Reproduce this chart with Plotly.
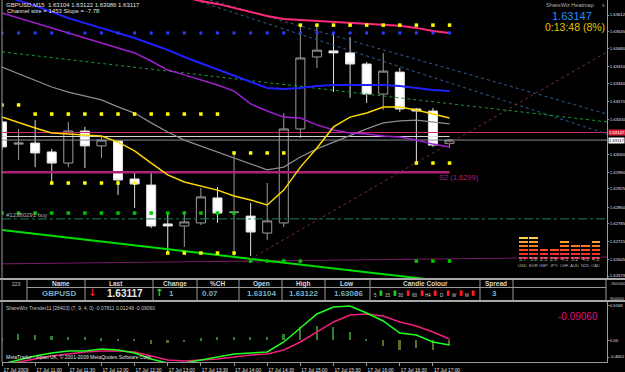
import plotly.graph_objects as go

# ---------------- data ----------------
bar_times = ["10:30", "10:45", "11:00", "11:15", "11:30", "11:45", "12:00", "12:15", "12:30", "12:45",
             "13:00", "13:15", "13:30", "13:45", "14:00", "14:15", "14:30", "14:45", "15:00", "15:15",
             "15:30", "15:45", "16:00", "16:15", "16:30", "16:45", "17:00", "17:15"]
bars = list(range(len(bar_times)))

opens = [1.63189, 1.63101, 1.63105, 1.63070, 1.63026, 1.63153, 1.63094, 1.63113, 1.62963, 1.62939,
         1.62785, 1.62777, 1.62789, 1.62888, 1.62830, 1.62816, 1.62749, 1.62789, 1.63161, 1.63446,
         1.63470, 1.63462, 1.63418, 1.63299, 1.63386, 1.63240, 1.63232, 1.63104]
highs = [1.63204, 1.63161, 1.63196, 1.63082, 1.63189, 1.63169, 1.63133, 1.63117, 1.62987, 1.62995,
         1.62832, 1.62836, 1.62927, 1.62931, 1.63066, 1.62868, 1.62947, 1.63224, 1.63572, 1.63572,
         1.63541, 1.63525, 1.63426, 1.63462, 1.63402, 1.63244, 1.63244, 1.63122]
lows = [1.63078, 1.63038, 1.63010, 1.62947, 1.63010, 1.63006, 1.63046, 1.62900, 1.62848, 1.62769,
        1.62670, 1.62694, 1.62781, 1.62789, 1.62650, 1.62658, 1.62721, 1.62773, 1.63125, 1.63402,
        1.63307, 1.63284, 1.63264, 1.63236, 1.63228, 1.63026, 1.63090, 1.63086]
closes = [1.63090, 1.63105, 1.63066, 1.63026, 1.63153, 1.63094, 1.63117, 1.62959, 1.62943, 1.62777,
          1.62777, 1.62793, 1.62892, 1.62828, 1.62832, 1.62753, 1.62797, 1.63161, 1.63442, 1.63473,
          1.63462, 1.63418, 1.63299, 1.63390, 1.63240, 1.63232, 1.63097, 1.63117]

ma_yellow = [1.63208, 1.63185, 1.63165, 1.63145, 1.63141, 1.63137, 1.63133, 1.63109, 1.63074, 1.63026,
             1.62979, 1.62951, 1.62935, 1.62919, 1.62896, 1.62880, 1.62860, 1.62919, 1.63010, 1.63086,
             1.63169, 1.63208, 1.63224, 1.63248, 1.63248, 1.63236, 1.63220, 1.63204]
ma_gray = [1.63406, 1.63379, 1.63351, 1.63327, 1.63307, 1.63291, 1.63276, 1.63248, 1.63224, 1.63185,
           1.63149, 1.63117, 1.63094, 1.63070, 1.63046, 1.63022, 1.62999, 1.63010, 1.63050, 1.63082,
           1.63109, 1.63137, 1.63161, 1.63185, 1.63193, 1.63196, 1.63189, 1.63181]
ma_blue = [1.63691, 1.63671, 1.63648, 1.63624, 1.63600, 1.63580, 1.63561, 1.63541, 1.63521, 1.63497,
           1.63474, 1.63446, 1.63422, 1.63398, 1.63371, 1.63347, 1.63323, 1.63319, 1.63323, 1.63331,
           1.63335, 1.63335, 1.63335, 1.63335, 1.63331, 1.63323, 1.63315, 1.63311]
ma_purple = [1.63620, 1.63600, 1.63580, 1.63561, 1.63541, 1.63521, 1.63501, 1.63481, 1.63462, 1.63430,
             1.63394, 1.63375, 1.63355, 1.63335, 1.63311, 1.63260, 1.63232, 1.63208, 1.63204, 1.63177,
             1.63157, 1.63145, 1.63141, 1.63133, 1.63129, 1.63117, 1.63101, 1.63090]
ma_pink_bars = [11, 12, 13, 14, 15, 16, 17, 18, 19, 20, 21, 22, 23, 24, 25, 26, 27]
ma_pink = [1.63683, 1.63667, 1.63656, 1.63640, 1.63624, 1.63608, 1.63596, 1.63592, 1.63588, 1.63584,
           1.63580, 1.63576, 1.63572, 1.63569, 1.63561, 1.63549, 1.63541]

# straight channel / trend lines: bar position and price at both ends
chan_a_x, chan_a_y = [12.55, 36.5], [1.63671, 1.63220]
chan_b_x, chan_b_y = [11.64, 36.5], [1.63671, 1.63141]
chan_mid_x, chan_mid_y = [0, 36.5], [1.63466, 1.63189]
chan_low_x, chan_low_y = [0, 36.5], [1.62761, 1.62484]
diag_x, diag_y = [14.66, 36.5], [1.62634, 1.63466]
s3_x, s3_y = [0, 36.5], [1.62627, 1.62654]

heat_price = 1.63147
bid_price = 1.63117
white_level = 1.63131
s2_level = 1.6299
order_level = 1.62805

yellow_levels = [1.63572, 1.63256, 1.63220, 1.63066, 1.62947, 1.62670, 1.63026]
yellow_bar_spans = [(18, 27), (0, 1), (2, 13), (14, 17), (3, 8), (10, 14), (25, 27)]
blue_level = 1.63541
blue_bar_span = (0, 27)
green_levels = [1.62828, 1.62638, 1.62638]
green_bar_spans = [(0, 14), (15, 18), (25, 27)]

price_ticks = [1.63612, 1.63545, 1.63480, 1.63410, 1.63340, 1.63270, 1.63200, 1.63060,
               1.62990, 1.62925, 1.62850, 1.62785, 1.62715, 1.62645, 1.62579]
time_tick_bars = [0, 2, 4, 6, 8, 10, 12, 14, 16, 18, 20, 22, 24, 26]
time_tick_labels = ["17 Jul 2009", "17 Jul 11:00", "17 Jul 11:30", "17 Jul 12:00", "17 Jul 12:30",
                    "17 Jul 13:00", "17 Jul 13:30", "17 Jul 14:00", "17 Jul 14:30", "17 Jul 15:00",
                    "17 Jul 15:30", "17 Jul 16:00", "17 Jul 16:30", "17 Jul 17:00"]

trender_main = [-0.365, -0.304, -0.243, -0.198, -0.167, -0.167, -0.137, -0.152, -0.198, -0.289,
                -0.350, -0.350, -0.304, -0.258, -0.213, -0.198, -0.182, -0.030, 0.182, 0.395,
                0.502, 0.517, 0.410, 0.289, 0.106, 0.076, -0.030, -0.076]
trender_signal = [-0.380, -0.334, -0.289, -0.243, -0.213, -0.182, -0.167, -0.167, -0.182, -0.243,
                  -0.304, -0.319, -0.304, -0.289, -0.258, -0.228, -0.213, -0.152, -0.030, 0.122,
                  0.274, 0.380, 0.395, 0.365, 0.274, 0.213, 0.122, 0.015]
trender_hist = [0.030, 0.091, 0.076, 0.061, 0.046, 0.046, 0.030, 0.015, 0.008, -0.061,
                -0.046, -0.030, 0.030, 0.046, 0.046, 0.046, 0.046, 0.091, 0.198, 0.213,
                0.198, 0.122, 0.015, -0.091, -0.152, -0.122, -0.152, -0.076]
trender_ticks = [0.517, 0.0, -0.258]
trender_tick_labels = ["0.5163", "0.00", "-0.4652"]

heat_currencies = ["USD", "EUR", "GBP", "JPY", "CHF", "AUD", "NZD", "CAD"]
heat_values = [5.7, 5.8, 2.5, 2.8, 4.3, 3.2, 4.0, 4.3]
heat_segments = [6, 6, 3, 3, 5, 4, 4, 5]

table_headers = ["Name", "Last", "Change", "%CH", "Open", "High", "Low", "Candle Colour", "Spread"]
table_values = ["GBPUSD", "1.63117", "1", "0.07", "1.63104", "1.63122", "1.63086", "", "3"]
candle_tfs = ["5", "15", "30", "60", "H4", "D", "W", "M"]
candle_tf_up = [True, True, False, False, False, False, False, False]

# ---------------- geometry helpers (pixel -> paper) ----------------
W, H = 625, 372
ML, MR, MT, MB = 2, 18, 0, 10
PW, PH = W - ML - MR, H - MT - MB


def X(px):
    return (px - ML) / PW


def Y(py):
    return (PH - py) / PH


FONT = "Liberation Sans"
fig = go.Figure()

fig.add_trace(go.Candlestick(
    x=bars, open=opens, high=highs, low=lows, close=closes,
    increasing=dict(line=dict(color="#9c9c9c", width=1), fillcolor="#000000"),
    decreasing=dict(line=dict(color="#e0e0e0", width=1), fillcolor="#ffffff"),
    whiskerwidth=0, showlegend=False, hoverinfo="skip", xaxis="x", yaxis="y"))


def line(x, y, color, width=1, dash="solid", xa="x", ya="y"):
    fig.add_trace(go.Scatter(x=x, y=y, mode="lines", line=dict(color=color, width=width, dash=dash),
                             showlegend=False, hoverinfo="skip", xaxis=xa, yaxis=ya))


line([0, 36.5], [order_level, order_level], "#1f7f66", 1, "dashdot")
line([0, 27], [s2_level, s2_level], "#b0207a", 2.5)
line([0, 36.5], [heat_price, heat_price], "#c8306c", 1)
line([0, 27], [white_level, white_level], "#d8d8d8", 1)
line([0, 36.5], [bid_price, bid_price], "#8a8f96", 1)
line(s3_x, s3_y, "#7a1a6a", 1)

line(chan_a_x, chan_a_y, "#2f5f95", 1, "dot")
line(chan_b_x, chan_b_y, "#2f5f95", 1, "dot")
line(chan_mid_x, chan_mid_y, "#1a9a3a", 1, "dot")
line(chan_low_x, chan_low_y, "#00e000", 2)
line(diag_x, diag_y, "#7a2a40", 1, "dot")

line(bars, ma_gray, "#8c8c8c", 1.3)
line(bars, ma_purple, "#a020d0", 1.5)
line(bars, ma_blue, "#2020ff", 2)
line(ma_pink_bars, ma_pink, "#ff2a78", 2)
line(bars, ma_yellow, "#ffd700", 1.5)

yx, yy = [], []
for lvl, (a, b) in zip(yellow_levels, yellow_bar_spans):
    for i in range(a, b + 1):
        yx.append(i)
        yy.append(lvl)
fig.add_trace(go.Scatter(x=yx, y=yy, mode="markers", marker=dict(color="#ffff00", size=3.5, symbol="square"),
                         showlegend=False, hoverinfo="skip"))
bx = list(range(blue_bar_span[0], blue_bar_span[1] + 1))
fig.add_trace(go.Scatter(x=bx, y=[blue_level] * len(bx), mode="markers",
                         marker=dict(color="#2a3cff", size=3, symbol="square"), showlegend=False, hoverinfo="skip"))
gx, gy = [], []
for lvl, (a, b) in zip(green_levels, green_bar_spans):
    for i in range(a, b + 1):
        gx.append(i)
        gy.append(lvl)
fig.add_trace(go.Scatter(x=gx, y=gy, mode="markers", marker=dict(color="#00c800", size=3.5, symbol="square"),
                         showlegend=False, hoverinfo="skip"))

hist_colors = ["#2f7f2f" if v >= 0 else "#55702a" for v in trender_hist]
fig.add_trace(go.Bar(x=bars, y=trender_hist, width=0.1, marker=dict(color=hist_colors, line=dict(width=0)),
                     showlegend=False, hoverinfo="skip", xaxis="x2", yaxis="y2"))
line(bars, trender_signal, "#f0207a", 1.5, xa="x2", ya="y2")
line(bars, trender_main, "#20ff20", 1.5, xa="x2", ya="y2")

level_colors = ["#e01e3c", "#f52a2a", "#ff4c20", "#ff7422", "#ffa030", "#ffd040"]
for k in range(6):
    xs = [c for c, n in zip(heat_currencies, heat_segments) if n > k]
    fig.add_trace(go.Bar(x=xs, y=[0.72] * len(xs), base=[k + 0.14] * len(xs), width=0.86,
                         marker=dict(color=level_colors[k], line=dict(width=0)),
                         showlegend=False, hoverinfo="skip", xaxis="x3", yaxis="y3"))

main_bottom, table_top, table_mid, table_bottom, low_top = 278, 280, 287.5, 300, 302
shapes = []
GRAY = "#9a9a9a"
for a, b in [(main_bottom, table_top), (table_bottom, low_top)]:
    shapes.append(dict(type="rect", xref="paper", yref="paper", x0=X(0), x1=X(625), y0=Y(b), y1=Y(a),
                       fillcolor="#a8a8a8", line=dict(width=0)))
shapes.append(dict(type="line", xref="paper", yref="paper", x0=X(2), x1=X(2), y0=0, y1=1,
                   line=dict(color=GRAY, width=1)))
col_edges = [27, 85, 153, 197, 239, 282, 325, 370, 480, 513, 606]
for cx in col_edges:
    shapes.append(dict(type="line", xref="paper", yref="paper", x0=X(cx), x1=X(cx), y0=Y(table_bottom),
                       y1=Y(table_top), line=dict(color=GRAY, width=1)))
shapes.append(dict(type="line", xref="paper", yref="paper", x0=X(27), x1=X(606), y0=Y(table_mid),
                   y1=Y(table_mid), line=dict(color=GRAY, width=1)))

ann = []


def text(px, py, s, size=6, color="#d0d0d0", anchor="left", bold=False, family=FONT):
    ann.append(dict(x=X(px), y=Y(py), xref="paper", yref="paper",
                    text=("<b>%s</b>" % s) if bold else s, showarrow=False, xanchor=anchor, yanchor="middle",
                    font=dict(family=family, size=size, color=color)))


text(4, 5, "GBPUSD,M15  1.63104 1.63122 1.63086 1.63117", 6, "#e0e0e0")
text(5, 11, "Channel size = 1453 Slope = -7.78", 6, "#e0e0e0")
text(596, 5, "ShareWiz Heatmap", 5.5, "#b0b0b0", "right")
text(600, 5, "x", 5.5, "#b0b0b0", "left")
text(572, 16, "1.63147", 11, "#1e8fff", "center")
text(575, 27, "0:13:48 (8%)", 10.5, "#e6c200", "center")
text(4, 215, "#12380291 buy", 6, "#b0b0b0")
text(437, 177, "S2 (1.6299)", 7.5, "#b0207a", "left")

for price, bg, fg in [(heat_price, "#e0203c", "#ffffff"), (bid_price, "#ffffff", "#000000")]:
    ann.append(dict(x=X(608), y=price, xref="paper", yref="y", text="%.5f" % price, showarrow=False,
                    xanchor="left", yanchor="middle", bgcolor=bg, borderpad=0,
                    font=dict(family=FONT, size=4.2, color=fg)))

for c, v in zip(heat_currencies, heat_values):
    ann.append(dict(x=c, y=Y(263.5), xref="x3", yref="paper", text="%.1f" % v, showarrow=False,
                    font=dict(family=FONT, size=5, color="#b0b0b0")))
    ann.append(dict(x=c, y=Y(269.5), xref="x3", yref="paper", text=c, showarrow=False,
                    font=dict(family=FONT, size=4.2, color="#b0b0b0")))

text(10, 283.5, "223", 5, "#c0c0c0")
header_x = [61, 116, 175, 217, 261, 303, 347, 425, 496]
for hx, h in zip(header_x, table_headers):
    text(hx, 283.5, h, 6.5, "#d8d8d8", "center", True)
value_x = [59, 125, 171, 210, 261, 303, 348, 425, 494]
VALC = "#78b0c8"
for vx, (h, v) in zip(value_x, zip(table_headers, table_values)):
    if not v:
        continue
    if h == "Last":
        text(vx, 293.5, v, 10, "#e8e8e8", "center", True)
    else:
        text(vx, 293.5, v, 8, VALC, "center", True)
text(92, 292.5, "↓", 10, "#ff2020", "center", True, "DejaVu Sans")
text(159, 292.5, "↑", 10, "#20e020", "center", True, "DejaVu Sans")
tf_bar_x = [381, 395, 408, 422, 435, 448, 461, 473]
for tx, tf, up in zip(tf_bar_x, candle_tfs, candle_tf_up):
    text(tx - 2.5, 295.5, tf, 4.5, "#d0d0d0", "right")
    text(tx, 293, "▮", 7, "#20d020" if up else "#ff2020", "center", False, "DejaVu Sans")
text(608, 283, "-900000", 4.2, "#c0c0c0", "left")
text(608, 298, "900000", 4.2, "#c0c0c0", "left")

text(4, 308, "ShareWiz Trender11 [28403] (7, 9, 4, 0) -0.07811 0.01248 -0.09060", 5, "#c0c0c0")
text(600, 316, "-0.09060", 10, "#e0107a", "right")
text(4, 357, "MetaTrader - Alpari UK, © 2001-2009 MetaQuotes Software Corp.", 5, "#e0e0e0")

tickfont = dict(family=FONT, size=4.2, color="#e0e0e0")
fig.update_layout(
    width=W, height=H, margin=dict(l=ML, r=MR, t=MT, b=MB, autoexpand=False),
    paper_bgcolor="#000000", plot_bgcolor="#000000", showlegend=False,
    boxgap=0.22, bargap=0, barmode="overlay",
    xaxis=dict(domain=[0, 1], range=[0, 36.5], anchor="y", showticklabels=False, showgrid=False,
               zeroline=False, rangeslider=dict(visible=False), showline=False, automargin=False),
    yaxis=dict(domain=[Y(main_bottom), 1], range=[1.636714 - 0.00003958 * main_bottom, 1.636714],
               side="right", anchor="x", tickvals=price_ticks, ticktext=["%.5f" % p for p in price_ticks],
               showgrid=False, zeroline=False, showline=True, linecolor=GRAY, ticks="outside", ticklen=1,
               tickcolor=GRAY, tickfont=tickfont, automargin=False, ticklabelstandoff=0),
    xaxis2=dict(domain=[0, 1], range=[0, 36.5], anchor="y2", tickvals=time_tick_bars, ticktext=time_tick_labels,
                ticklabelshift=14, tickangle=0, ticks="outside", ticklen=3, tickcolor=GRAY,
                tickfont=dict(family=FONT, size=4.8, color="#e0e0e0"),
                showgrid=False, zeroline=False, showline=True, linecolor=GRAY, automargin=False,
                ticklabelstandoff=0),
    yaxis2=dict(domain=[0, Y(low_top)], range=[-0.334, (340 - low_top) * 0.0152], anchor="x2", side="right",
                tickvals=trender_ticks, ticktext=trender_tick_labels, showgrid=False, zeroline=False,
                showline=True, linecolor=GRAY, ticks="outside", ticklen=1, tickcolor=GRAY, tickfont=tickfont,
                automargin=False, ticklabelstandoff=0),
    xaxis3=dict(domain=[X(517.5), X(600.7)], range=[-0.5, 7.5], anchor="y3", visible=False,
                categoryorder="array", categoryarray=heat_currencies),
    yaxis3=dict(domain=[Y(259.5), Y(235.5)], range=[0, 6], anchor="x3", visible=False),
    shapes=shapes, annotations=ann,
)

fig.write_html("out.html")
